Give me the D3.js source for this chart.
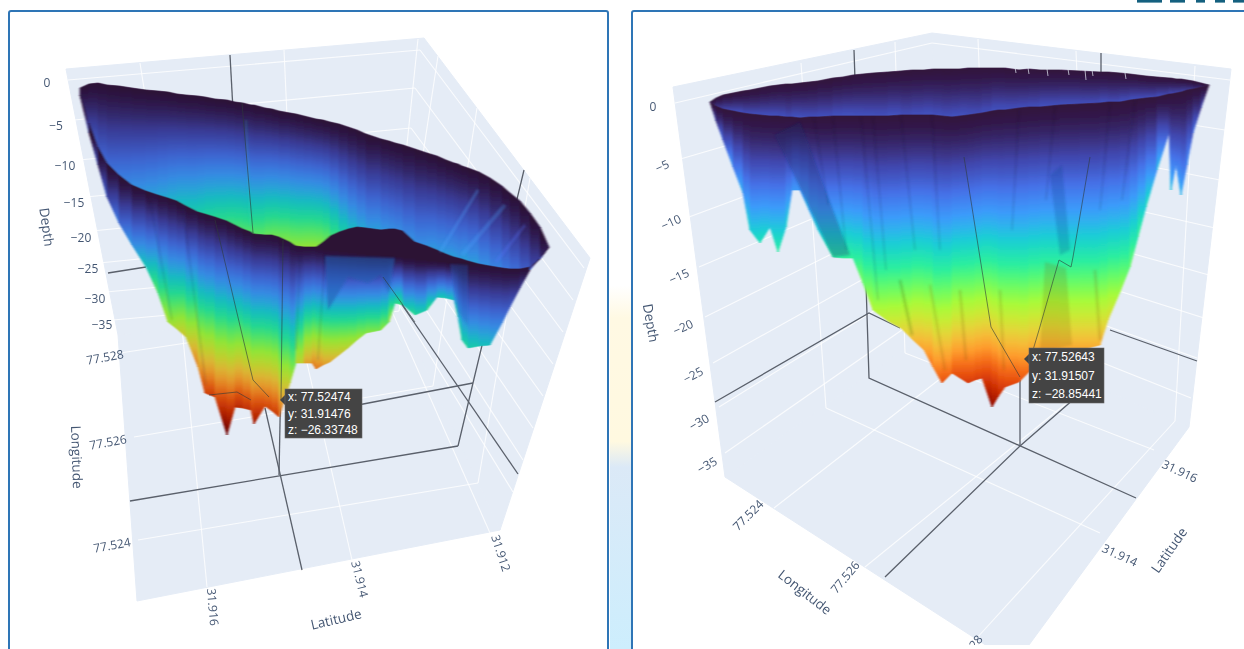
<!DOCTYPE html>
<html><head><meta charset="utf-8">
<script src="https://cdn.jsdelivr.net/npm/d3@7/dist/d3.min.js"></script>
<style>html,body{margin:0;padding:0;background:#fff;overflow:hidden}svg{display:block;filter:blur(0.3px)}</style>
</head><body><svg id="chart" width="1244" height="649"></svg>
<script>
// ---------- data ----------
const depthTicks = [0,-5,-10,-15,-20,-25,-30,-35];
const lonTicks = [77.524,77.526,77.528];
const latTicks = [31.916,31.914,31.912];
const latTicksRight = [31.916,31.914];
const turboColors = ["#30123b","#4145ab","#4675ed","#39a2fc","#1bcfd4","#24eca6","#61fc6c","#a4fc3b","#d1e834","#f3c63a","#fe9b2d","#f36315","#d93806","#b11901","#7a0402"];

// left view: stations along the section, rim and floor heights, true depth reached
const leftStations = [0,9,18,27,39,52,66,78,88,97,106,118,125,135,147,155,163,171,174,185,192,199,210,216,224,232,236,243,250,259,268,277,286,301,309,315,323,335,347,357,366,374,378,382,388,399,410,422,430,440,450,460,469];
const leftFarRim = [-0.8,-0.4,-0.3,-0.5,-0.6,-0.8,-1,-1.1,-1.2,-1.4,-1.5,-1.6,-1.7,-1.9,-2,-2.2,-2.3,-2.5,-2.5,-2.8,-2.9,-3.1,-3.3,-3.4,-3.6,-3.8,-3.9,-4,-4.2,-4.4,-4.7,-5,-5.4,-5.9,-6.1,-6.3,-6.5,-6.9,-7.3,-7.6,-8,-8.3,-8.4,-8.6,-8.8,-9.2,-9.8,-10.6,-11.3,-12.1,-13.3,-14.7,-16.7];
const leftNearRim = [-1.5,-4.3,-6.7,-8.3,-9.5,-10.5,-11.1,-11.5,-11.8,-12.1,-12.6,-13.2,-13.4,-13.7,-14.1,-14.5,-14.9,-15.2,-15.4,-15.5,-15.5,-15.7,-16.2,-16.6,-16.7,-16.7,-16.7,-16.2,-15.6,-15.2,-14.9,-14.7,-14.8,-15,-14.9,-14.9,-15.1,-16.2,-16.6,-17,-17.4,-17.7,-17.8,-17.9,-18.1,-18.4,-18.6,-18.8,-18.9,-18.9,-18.7,-17.9,-16.7];
const leftNearLip = [-1.5,-4.3,-6.7,-8.3,-9.5,-10.5,-11.1,-11.5,-11.8,-12.1,-12.6,-13.2,-13.4,-13.7,-14.1,-14.5,-14.9,-15.2,-15.4,-15.5,-15.5,-15.7,-16.2,-16.6,-16.7,-16.7,-16.7,-16.9,-17,-17.1,-17.2,-17.3,-17.4,-17.5,-17.6,-17.6,-17.7,-17.9,-18,-18.1,-18.2,-18.3,-18.3,-18.3,-18.4,-18.5,-18.6,-18.8,-18.9,-18.9,-18.7,-17.9,-16.7];
const leftFloor = [-1.5,-5.3,-8.5,-11.7,-14.3,-16.5,-18.7,-21.3,-24.2,-24.9,-25.7,-28.7,-31.3,-31.7,-35.5,-32.7,-32.8,-33,-34.4,-32.6,-33.1,-33.7,-30.3,-28.3,-28.3,-28.3,-28.9,-28.5,-28.2,-27.5,-26.8,-26,-25.3,-25,-24.2,-22.3,-22.5,-23.5,-23,-21.7,-21.8,-22,-23.7,-26,-26.8,-26.6,-26.5,-24.3,-22.7,-20.8,-19,-17.8,-16.7];
const leftNearDepth = [0,-0.9,-1.5,-2.8,-4.5,-6,-9,-12.5,-15,-16,-18,-20.5,-23.8,-24.7,-28.4,-25.5,-25.5,-24.7,-26.1,-24.7,-23.2,-25.5,-14,-15,-18.5,-20.9,-21.8,-20.3,-18.9,-18,-16.2,-15.1,-13.9,-13.6,-13.3,-12.2,-9.9,-9.6,-9.6,-9.3,-8.7,-8.7,-8.7,-9.9,-9.9,-8.7,-8.4,-5,-3.5,-1.5,-0.4,-0.3,0];
const leftFarDepth = [0,-2.3,-3.5,-4.1,-4.9,-5.8,-6.4,-7,-7.5,-8.1,-8.7,-9.3,-9.9,-10.4,-11,-11.6,-11.9,-12.2,-12.2,-12.8,-13.1,-13.3,-13.9,-14.2,-14.5,-14.5,-14.5,-13.6,-12.2,-10.2,-8.7,-7.5,-7,-6.4,-6.1,-5.8,-5.8,-5.8,-6.1,-6.7,-6.4,-7,-6.4,-6.7,-7,-6.4,-5.8,-5.2,-4.6,-4.1,-2.9,-1.7,0];

// right view
const rightStations = [0,6,13,23,33,40,50,60,68,76,82,90,99,108,123,133,143,153,163,178,191,202,214,223,232,242,250,258,265,272,282,288,295,309,319,330,350,370,390,398,410,420,428,436,447,459,461,466,471,477,483,491,499];
const rightFarRim = [-4.2,-3.8,-3.5,-3.3,-3.1,-3,-2.8,-2.6,-2.5,-2.4,-2.4,-2.3,-2.2,-2.1,-1.8,-1.7,-1.5,-1.4,-1.3,-1.2,-1.1,-1,-1,-0.9,-0.9,-0.9,-0.9,-0.8,-0.8,-0.8,-0.8,-0.8,-0.8,-1,-0.9,-1,-1,-1.1,-1.2,-1.2,-1.3,-1.4,-1.5,-1.6,-1.7,-1.8,-1.8,-1.9,-1.9,-2,-2.1,-2.3,-2.5];
const rightNearRim = [-4.2,-4.6,-4.9,-5.1,-5.3,-5.4,-5.5,-5.6,-5.6,-5.7,-5.7,-5.8,-5.7,-5.7,-5.6,-5.6,-5.6,-5.6,-5.6,-5.6,-5.5,-5.5,-5.5,-5.5,-5.6,-5.7,-5.6,-5.5,-5.4,-5.3,-5.1,-5,-5,-4.8,-4.7,-4.7,-4.5,-4.4,-4.3,-4.2,-4.2,-4,-3.9,-3.8,-3.7,-3.4,-3.4,-3.3,-3.2,-3,-2.9,-2.7,-2.5];
const rightFloor = [-4.2,-6.1,-8,-10.7,-13.3,-17,-18.3,-16.7,-19.2,-16.7,-13,-13,-15,-17,-19.7,-19.8,-19.8,-22.3,-25,-26.1,-26.8,-27.9,-29,-30.7,-32.3,-31.3,-31.8,-32.3,-32,-31.8,-34.7,-33.7,-32.7,-32.2,-31.2,-30.5,-29.5,-29,-28.5,-26,-23.2,-20.7,-17.7,-14.7,-11,-7.3,-13,-10.5,-13.5,-10.5,-7.3,-4.8,-2.5];
const rightNearDepth = [0,-1.7,-3.5,-4.9,-6.4,-8.1,-9.5,-8.1,-10.1,-8.1,-5.8,-5.8,-6.9,-7.8,-10.7,-10.7,-11,-13,-15,-16.2,-17.3,-18.8,-20.8,-21.9,-23.1,-23.1,-24.5,-24.5,-24.8,-24.5,-28.9,-26,-24.8,-23.7,-22.5,-22.5,-20.8,-20.2,-19.6,-17.3,-14.4,-12.1,-10.7,-8.7,-6.3,-4.3,-6.3,-5.8,-6.3,-4.6,-3.5,-1.7,0];
const rightFarDepth = [0,-1.2,-2,-2.4,-2.6,-2.2,-2.8,-2.4,-2.9,-2.3,-2.5,-2.9,-2.3,-2.7,-2.4,-3,-2.5,-2.9,-2.4,-2.8,-2.6,-2.3,-2.9,-2.5,-2.7,-2.4,-2.9,-2.4,-2.6,-2.2,-2.8,-2.5,-2.7,-2.3,-2.6,-2.4,-2.8,-2.3,-2.6,-2.5,-2.3,-2.7,-2.4,-2.5,-2.2,-2.4,-2.3,-2.1,-2,-1.8,-1.4,-0.9,0];

const leftHover = ["x: 77.52474","y: 31.91476","z: −26.33748"];
const rightHover = ["x: 77.52643","y: 31.91507","z: −28.85441"];

// ---------- layout ----------
const svg = d3.select("#chart");
const defs = svg.append("defs");
const deepest = -29;
const ramp = d3.piecewise(d3.interpolateRgb, turboColors);
function baseGradient(id,gamma){
  const b=defs.append("linearGradient").attr("id",id);
  d3.range(0,1.0001,1/24).forEach(o=>b.append("stop").attr("offset",o).attr("stop-color",ramp(Math.pow(o,gamma))));
}
defs.append("filter").attr("id","soft").attr("x","-5%").attr("y","-5%").attr("width","110%").attr("height","110%")
  .append("feGaussianBlur").attr("stdDeviation","1.1 0.5");
defs.append("filter").attr("id","soft2").attr("x","-5%").attr("y","-5%").attr("width","110%").attr("height","110%")
  .append("feGaussianBlur").attr("stdDeviation",1.2);

const WALL="#e5ecf6", GRID="#ffffff", SPIKE="#5a606b", INK="#2a3f5f", BORDER="#2e75b6";
let gid=0;

// page backdrop seen between the two frames
const back = defs.append("linearGradient").attr("id","backdrop").attr("x1",0).attr("x2",0).attr("y1",0).attr("y2",1);
[[0,"#ffffff"],[.44,"#ffffff"],[.49,"#fff9e3"],[.68,"#fff9e0"],[.72,"#dbe9f7"],[1,"#cdeefd"]].forEach(d=>back.append("stop").attr("offset",d[0]).attr("stop-color",d[1]));
svg.append("rect").attr("x",610).attr("y",0).attr("width",21).attr("height",649).attr("fill","url(#backdrop)");
// bottom of a cropped heading above the right frame
svg.append("g").selectAll("rect").data([[1137,25],[1170,15],[1196,9],[1215,10],[1233,11]]).join("rect")
  .attr("x",d=>d[0]).attr("y",0).attr("width",d=>d[1]).attr("height",2.6).attr("fill","#14607f");

function frame(x,w){
  svg.append("rect").attr("x",x).attr("y",11).attr("width",w).attr("height",660).attr("rx",2)
    .attr("fill","#fff").attr("stroke",BORDER).attr("stroke-width",2);
}
frame(9,599); frame(632,640);

function scene(cfg){
  const clip="clip"+(gid++);
  svg.append("clipPath").attr("id",clip).append("rect").attr("x",cfg.clip[0]).attr("y",cfg.clip[1]).attr("width",cfg.clip[2]).attr("height",cfg.clip[3]);
  const g=svg.append("g").attr("clip-path",`url(#${clip})`);
  const poly=d3.line();
  cfg.walls.forEach(w=>g.append("path").attr("d",poly(w)+"Z").attr("fill",WALL).attr("stroke",WALL).attr("stroke-width",1));
  const ends=(ticks,pts)=>[d3.scaleLinear().domain(ticks).range(pts.map(p=>p[0])),d3.scaleLinear().domain(ticks).range(pts.map(p=>p[1]))];
  cfg.grids.forEach(s=>{
    const [ax,ay]=ends(s.ticks,s.from),[bx,by]=ends(s.ticks,s.to);
    g.append("g").selectAll("line").data(s.ticks).join("line")
      .attr("x1",ax).attr("y1",ay).attr("x2",bx).attr("y2",by)
      .attr("stroke",GRID).attr("stroke-width",1.1).attr("opacity",.8);
  });
  const spikes=(list,sel)=>sel.selectAll("path.s").data(list).join("path").attr("class","s").attr("d",d=>poly(d)).attr("fill","none").attr("stroke",SPIKE).attr("stroke-width",1.3);
  spikes(cfg.spikesBehind,g.append("g"));

  // surface
  const X=d3.scaleLinear().domain(cfg.xDomain).range(cfg.xRange);
  const Y=d3.scaleLinear().domain(cfg.yDomain).range(cfg.yRange);
  const baseId="turbo"+(gid++);
  baseGradient(baseId,cfg.gamma);
  const surf=g.append("g").style("filter",`url(#soft)`+(cfg.tone?` brightness(${cfg.tone})`:""));
  const strip=(st,top,bot,ref,depth)=>{
    for(let i=0;i<st.length-1;i++){
      const r=(Y(ref[i])+Y(ref[i+1]))/2, b=(Y(bot[i])+Y(bot[i+1]))/2;
      const z=Math.min((depth[i]+depth[i+1])/2,-0.3);
      const o=Math.pow(z/deepest,1/cfg.gamma);
      const y2=r+Math.max(b-r,1)/o;
      const id="c"+(gid++);
      defs.append("linearGradient").attr("id",id).attr("href","#"+baseId).attr("gradientUnits","userSpaceOnUse")
        .attr("x1",0).attr("x2",0).attr("y1",r).attr("y2",y2);
      surf.append("path")
        .attr("d",poly([[X(st[i]),Y(top[i])],[X(st[i+1]),Y(top[i+1])],[X(st[i+1]),Y(bot[i+1])],[X(st[i]),Y(bot[i])]])+"Z")
        .attr("fill",`url(#${id})`).attr("stroke",`url(#${id})`).attr("stroke-width",0.7);
    }
  };
  strip(cfg.st,cfg.far,cfg.nearTop,cfg.far,cfg.farZ);
  strip(cfg.st,cfg.nearTop,cfg.floor,cfg.nearLip,cfg.nearZ);

  // shading on the surface: folds and thin streaks
  const fold=g.append("g").style("filter","url(#soft2)");
  fold.selectAll("path.f").data(cfg.folds).join("path").attr("class","f").attr("d",d=>poly(d.p)+"Z").attr("fill",d=>d.c).attr("opacity",d=>d.o);
  fold.selectAll("path.t").data(cfg.streaks).join("path").attr("class","t").attr("d",d=>poly(d.p)).attr("fill","none").attr("stroke",d=>d.c||"#10183a").attr("stroke-width",d=>d.w||1.6).attr("opacity",d=>d.o||.12);
  g.append("g").selectAll("path").data(cfg.notches||[]).join("path").attr("d",d=>poly(d)).attr("fill","none").attr("stroke",WALL).attr("stroke-width",1).attr("opacity",.7);

  const ov=g.append("g").attr("opacity",.6);
  spikes(cfg.spikesOver,ov);
  ov.selectAll("path.s").attr("stroke","#2f3b3b").attr("stroke-width",1);

  // text
  const label=(t,x,y,rot,size,fill)=>g.append("text").attr("transform",`translate(${x},${y}) rotate(${rot})`)
    .attr("text-anchor","middle").attr("dominant-baseline","central")
    .attr("font-family","Open Sans").attr("font-size",size).attr("fill",fill||INK).attr("opacity",.88).text(t);
  cfg.axes.forEach(a=>{
    const [lx,ly]=ends(a.ticks,a.at);
    const rot=d3.scaleLinear().domain(a.ticks).range(a.rot);
    a.ticks.forEach(t=>label(a.fmt(t),lx(t),ly(t),rot(t),12));
  });
  cfg.titles.forEach(t=>label(t[0],t[1],t[2],t[3],13.5));

  // hover label
  const h=cfg.hover;
  const tip=g.append("g");
  tip.append("path").attr("d",poly([[h.x,h.y+6],[h.x-5,h.y+11],[h.x,h.y+16]])+"Z").attr("fill","#444");
  tip.append("rect").attr("x",h.x).attr("y",h.y).attr("width",h.w).attr("height",h.h).attr("fill","#444").attr("stroke","#6a6a6a").attr("stroke-width",.6);
  tip.selectAll("text").data(h.lines).join("text").attr("x",h.x+3).attr("y",(d,i)=>h.y+h.h*(i+0.5)/3+4)
    .attr("font-family","Liberation Sans").attr("font-size",12).attr("fill","#fff").text(d=>d);
}
const fmt3=d3.format(".3f");
const fmtDepth=d=>d===0?"0":"−"+Math.abs(d);

scene({
  clip:[10,12,597,637], tone:.8, gamma:1.3,
  xDomain:[0,470], xRange:[80,550], yDomain:[0,-60], yRange:[80,680],
  st:leftStations, far:leftFarRim, nearTop:leftNearRim, nearLip:leftNearLip, floor:leftFloor, nearZ:leftNearDepth, farZ:leftFarDepth,
  walls:[[[66,69],[424,38],[396,305],[118,335]],[[424,38],[590,258],[500,530],[396,305]],[[118,335],[396,305],[500,530],[137,601]]],
  grids:[
    {ticks:depthTicks,from:[[68,80],[74,120],[79,160],[86,197],[92,231],[99,263],[106,292],[113,320]],to:[[420,50],[415,88],[411,128],[407,165],[403,200],[400,233],[397,265],[393,295]]},
    {ticks:depthTicks,from:[[420,50],[415,88],[411,128],[407,165],[403,200],[400,233],[397,265],[393,295]],to:[[584,268],[573,300],[563,332],[553,364],[543,396],[533,428],[523,460],[513,492]]},
    {ticks:latTicks,from:[[140,63],[284,50],[418,39]],to:[[182,328],[296,315],[390,307]]},
    {ticks:latTicks,from:[[207,587],[352,560],[490,533]],to:[[182,328],[296,315],[390,307]]},
    {ticks:lonTicks,from:[[138,540],[134,437],[120,353]],to:[[478,483],[433,386],[399,311]]},
    {ticks:lonTicks,from:[[530,178],[477,108],[438,56]],to:[[478,483],[433,386],[399,311]]}
  ],
  spikesBehind:[
    [[230,55],[233,110]],[[108,273],[146,267]],[[130,501],[458,446]],[[458,446],[473,383],[524,170]],
    [[473,383],[290,418]],[[383,277],[518,474]],[[279,475],[282,320]],[[265,408],[302,570]]
  ],
  spikesOver:[[[242,103],[253,233]],[[215,220],[241,330],[253,380],[269,397]],[[283,240],[281,400]],[[209,395],[237,392],[251,400]],[[383,277],[415,322]]],
  folds:[
    {p:[[325,256],[395,258],[389,293],[381,275],[368,283],[348,277],[328,310]],c:"#1f5fb0",o:.55},
    {p:[[450,264],[468,265],[468,325],[458,312]],c:"#1d5fb8",o:.3}
  ],
  streaks:[
    {p:[[478,190],[440,252]],c:"#4da6ff",o:.3,w:3},{p:[[505,205],[462,255]],c:"#4da6ff",o:.28,w:4},{p:[[525,225],[496,262]],c:"#5a78ff",o:.28,w:3},
    {p:[[150,200],[172,320]]},{p:[[183,210],[206,385]]},{p:[[300,255],[296,350]]},{p:[[325,255],[318,360]]},
    {p:[[246,120],[250,225]],c:"#2fd0c0",o:.2,w:2}
  ],
  axes:[
    {ticks:depthTicks,fmt:fmtDepth,rot:depthTicks.map(()=>0),at:[[47,82],[56,125],[65,165],[74,202],[81,237],[88,268],[95,298],[102,324]]},
    {ticks:lonTicks,fmt:fmt3,rot:[-10,-10,-10],at:[[112,545],[108,442],[105,357]]},
    {ticks:latTicks,fmt:fmt3,rot:[85,76,72],at:[[213,607],[360,579],[501,553]]}
  ],
  titles:[["Depth",47,227,82],["Longitude",77,457,88],["Latitude",336,619,-13]],
  hover:{x:285,y:389,w:77,h:49,lines:leftHover}
});

scene({
  clip:[633,12,611,633], gamma:1.45,
  xDomain:[0,500], xRange:[710,1210], yDomain:[0,-60], yRange:[60,660],
  st:rightStations, far:rightFarRim, nearTop:rightNearRim, nearLip:rightNearRim, floor:rightFloor, nearZ:rightNearDepth, farZ:rightFarDepth,
  walls:[[[673,87],[932,33],[945,320],[725,477]],[[932,33],[1231,69],[1189,427],[945,320]],[[725,477],[945,320],[1189,427],[1015,664]]],
  grids:[
    {ticks:depthTicks,from:[[675,103],[677,160],[689,217],[699,267],[705,317],[713,363],[719,407],[725,453]],to:[[932,43],[934,85],[936,125],[938,165],[940,200],[942,235],[943,268],[945,300]]},
    {ticks:depthTicks,from:[[932,43],[934,85],[936,125],[938,165],[940,200],[942,235],[943,268],[945,300]],to:[[1230,80],[1225,130],[1220,180],[1215,228],[1209,275],[1204,318],[1197,358],[1191,398]]},
    {ticks:latTicksRight,from:[[801,63],[895,42]],to:[[826,408],[905,353]]},
    {ticks:latTicksRight,from:[[1154,450],[1100,533]],to:[[905,353],[826,408]]},
    {ticks:lonTicks,from:[[774,508],[865,567],[975,640]],to:[[990,340],[1090,384],[1175,421]]},
    {ticks:lonTicks,from:[[978,39],[1076,51],[1195,66]],to:[[990,340],[1090,384],[1175,421]]}
  ],
  spikesBehind:[
    [[854,50],[855,80]],[[1101,53],[1101,80]],[[866,283],[869,378],[1136,498]],[[715,402],[869,313],[900,328]],
    [[1110,330],[1197,361]],[[1020,380],[1020,446]],[[885,577],[1020,446],[1090,385]]
  ],
  spikesOver:[[[964,157],[991,327],[1020,377]],[[1090,157],[1073,257],[1071,267],[1059,260],[1039,330],[1033,350]]],
  folds:[
    {p:[[775,135],[800,122],[850,255],[833,257]],c:"#14306e",o:.3},
    {p:[[1045,262],[1066,268],[1072,345],[1040,352]],c:"#7a5a10",o:.18},
    {p:[[1050,175],[1062,165],[1070,250],[1060,255]],c:"#123a80",o:.2}
  ],
  streaks:[
    {p:[[814,118],[828,205]]},{p:[[833,118],[846,250]]},{p:[[861,117],[878,300]]},{p:[[873,117],[886,270]]},
    {p:[[901,116],[915,250]]},{p:[[932,116],[940,250]]},{p:[[1019,110],[1012,230]]},{p:[[1055,106],[1046,200]]},
    {p:[[1110,104],[1100,210]]},{p:[[1135,100],[1122,200]]},{p:[[900,280],[912,335]],c:"#305010",o:.2,w:3},
    {p:[[960,290],[966,360]],c:"#705000",o:.18,w:2.5},{p:[[1000,290],[1004,370]],c:"#705000",o:.16,w:2.5},{p:[[930,285],[945,370]],c:"#705000",o:.16,w:2.5},
    {p:[[1095,270],[1100,340]],c:"#705000",o:.16,w:3}
  ],
  notches:[[[1015,67],[1016,73]],[[1028,68],[1029,74]],[[1047,69],[1048,76]],[[1068,69],[1069,75]],[[1085,70],[1086,80]],[[1092,70],[1093,76]],[[1125,73],[1126,79]]],
  axes:[
    {ticks:depthTicks,fmt:fmtDepth,rot:[0,-25,-25,-25,-25,-28,-30,-30],at:[[653,106],[662,166],[671,222],[679,276],[683,327],[693,375],[699,422],[707,465]]},
    {ticks:lonTicks,fmt:fmt3,rot:[-45,-50,-50],at:[[748,515],[845,577],[968,651]]},
    {ticks:latTicksRight,fmt:fmt3,rot:[25,25],at:[[1180,471],[1120,555]]}
  ],
  titles:[["Depth",651,323,80],["Longitude",805,592,38],["Latitude",1169,550,-55]],
  hover:{x:1029,y:348,w:75,h:55,lines:rightHover}
});
</script></body></html>
